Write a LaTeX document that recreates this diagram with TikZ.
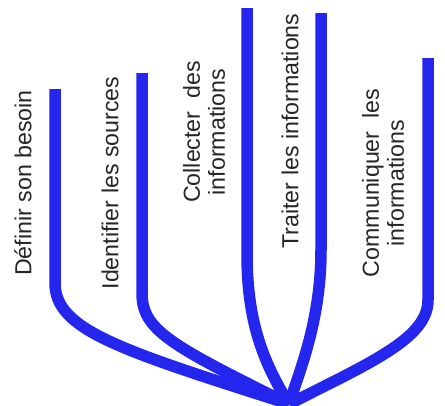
\documentclass[tikz,border=0pt]{standalone}
\usepackage{fontspec}
\setmainfont{Liberation Sans}
\definecolor{branchblue}{RGB}{36,38,238}
\begin{document}
\begin{tikzpicture}[x=1pt,y=-1pt,
  branch/.style={draw=branchblue,line width=11.5pt,line cap=butt,line join=round},
  lbl/.style={rotate=90,inner sep=0pt,font=\fontsize{23.2}{25}\selectfont,text=black!85,align=center}]
\useasboundingbox[fill=white] (0,0) rectangle (445,405);
% tops and root
\coordinate (root) at (289,404);
\coordinate (t1) at (55,89);
\coordinate (t2) at (142,73);
\coordinate (t3) at (247,8);
\coordinate (t4) at (321,13);
\coordinate (t5) at (428,58);
\coordinate (b1) at (55,283);
\coordinate (b2) at (142,293);
\coordinate (b3) at (247,253);
\coordinate (b4) at (321,250);
\coordinate (b5) at (428,300);
% branches
\draw[branch] (t1) -- (b1) .. controls (55,330) and (120,350) .. (root);
\draw[branch] (t2) -- (b2) .. controls (142,330) and (170,345) .. (root);
\draw[branch] (t3) -- (b3) .. controls (247,320) and (262,360) .. (root);
\draw[branch] (t4) -- (b4) .. controls (321,320) and (300,370) .. (root);
\draw[branch] (t5) -- (b5) .. controls (428,338) and (372,362) .. (root);
% labels
\node[lbl] (l1) at (23,183) {Définir son besoin};
\node[lbl] (l2) at (110,183) {Identifier les sources};
\node[lbl] (l3) at (204,132) {Collecter\ \ des\\informations};
\node[lbl] (l4) at (290,131) {Traiter les informations};
\node[lbl] (l5) at (383,183) {Communiquer\ \ les\\informations};
\end{tikzpicture}
\end{document}
